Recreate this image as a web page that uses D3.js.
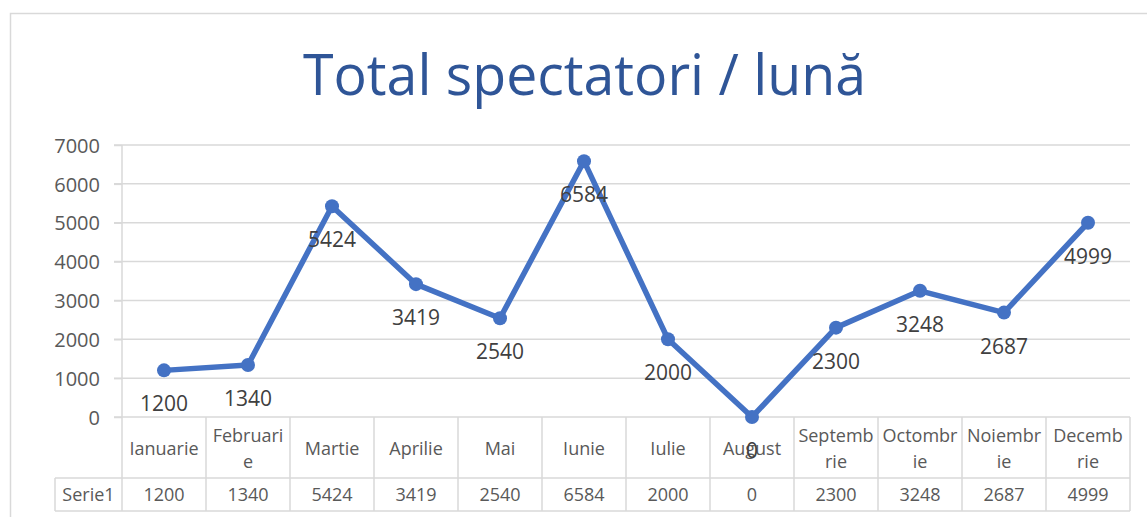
<!DOCTYPE html>
<html><head><meta charset="utf-8">
<script src="https://cdn.jsdelivr.net/npm/d3@7"></script>
<style>html,body{margin:0;padding:0;background:#fff;}svg{display:block;}</style>
</head><body>
<svg id="c" width="1147" height="517"></svg>
<script>
const months = ["Ianuarie","Februarie","Martie","Aprilie","Mai","Iunie","Iulie","August","Septembrie","Octombrie","Noiembrie","Decembrie"];
const monthLines = [["Ianuarie"],["Februari","e"],["Martie"],["Aprilie"],["Mai"],["Iunie"],["Iulie"],["August"],["Septemb","rie"],["Octombr","ie"],["Noiembr","ie"],["Decemb","rie"]];
const values = [1200,1340,5424,3419,2540,6584,2000,0,2300,3248,2687,4999];
const yTicks = [0,1000,2000,3000,4000,5000,6000,7000];
const seriesName = "Serie1";
const title = "Total spectatori / lună";

const svg = d3.select("#c");
const font = "'Open Sans', 'Noto Sans', sans-serif";
const gray = "#d9d9d9", txt = "#595959", blue = "#4472C4";

// chart border
svg.append("rect").attr("x",10.5).attr("y",13.5).attr("width",1160).attr("height",520)
  .attr("fill","#fff").attr("stroke",gray).attr("stroke-width",1.5);

// title
svg.append("text").attr("x",303).attr("y",95).attr("textLength",563).attr("lengthAdjust","spacingAndGlyphs")
  .attr("font-family",font).attr("font-size",57).attr("fill","#2F5597").text(title);

const x = d3.scaleBand().domain(months).range([122,1130]);
const y = d3.scaleLinear().domain([0,7000]).range([417,145]);

// gridlines
svg.append("g").selectAll("line").data(yTicks.filter(d=>d>0)).join("line")
  .attr("x1",114).attr("x2",1130).attr("y1",d=>y(d)).attr("y2",d=>y(d))
  .attr("stroke",gray).attr("stroke-width",1.5);

// y axis
const yAxis = d3.axisLeft(y).tickValues(yTicks).tickSize(8).tickPadding(14).tickFormat(d3.format("d"));
const ga = svg.append("g").attr("transform","translate(122,0)").call(yAxis);
ga.select(".domain").remove();
ga.selectAll(".tick line").attr("stroke",gray).attr("stroke-width",1.5);
ga.selectAll(".tick text").attr("font-family",font).attr("font-size",20).attr("fill",txt).attr("dy","0.36em");

// table lines
const tg = svg.append("g").attr("stroke",gray).attr("stroke-width",1.5);
tg.append("line").attr("x1",122).attr("x2",122).attr("y1",145).attr("y2",511);
tg.append("line").attr("x1",114).attr("x2",1130).attr("y1",y(0)).attr("y2",y(0));
tg.append("line").attr("x1",55).attr("x2",1130).attr("y1",478).attr("y2",478);
tg.append("line").attr("x1",55).attr("x2",1130).attr("y1",511).attr("y2",511);
tg.append("line").attr("x1",55).attr("x2",55).attr("y1",478).attr("y2",511);
tg.selectAll("line.col").data(months).join("line").attr("class","col")
  .attr("x1",d=>x(d)+x.bandwidth()).attr("x2",d=>x(d)+x.bandwidth()).attr("y1",y(0)).attr("y2",511);

// category labels
const cg = svg.append("g").attr("font-family",font).attr("font-size",18).attr("fill",txt).attr("text-anchor","middle");
months.forEach((m,i)=>{
  const lines = monthLines[i];
  const cx = x(m)+x.bandwidth()/2;
  const t = cg.append("text").attr("x",cx);
  const y0 = lines.length===1 ? 455 : 442;
  lines.forEach((l,j)=>t.append("tspan").attr("x",cx).attr("y",y0+j*26).text(l));
});
// series row
cg.append("text").attr("x",(55+122)/2).attr("y",501).text(seriesName);
cg.selectAll("text.v").data(values).join("text").attr("class","v")
  .attr("x",(d,i)=>x(months[i])+x.bandwidth()/2).attr("y",501).text(d=>d);

// line
const pts = values.map((v,i)=>[x(months[i])+x.bandwidth()/2, y(v)]);
svg.append("path").attr("d",d3.line()(pts)).attr("fill","none").attr("stroke",blue)
  .attr("stroke-width",5.5).attr("stroke-linejoin","round");
svg.append("g").selectAll("circle").data(values).join("circle")
  .attr("cx",(d,i)=>x(months[i])+x.bandwidth()/2).attr("cy",d=>y(d)).attr("r",7).attr("fill",blue);

// data labels (below)
svg.append("g").selectAll("text").data(values).join("text")
  .attr("x",(d,i)=>x(months[i])+x.bandwidth()/2).attr("y",d=>y(d)+41)
  .attr("text-anchor","middle").attr("font-family",font).attr("font-size",21).attr("fill","#404040").text(d=>d);
</script>
</body></html>
